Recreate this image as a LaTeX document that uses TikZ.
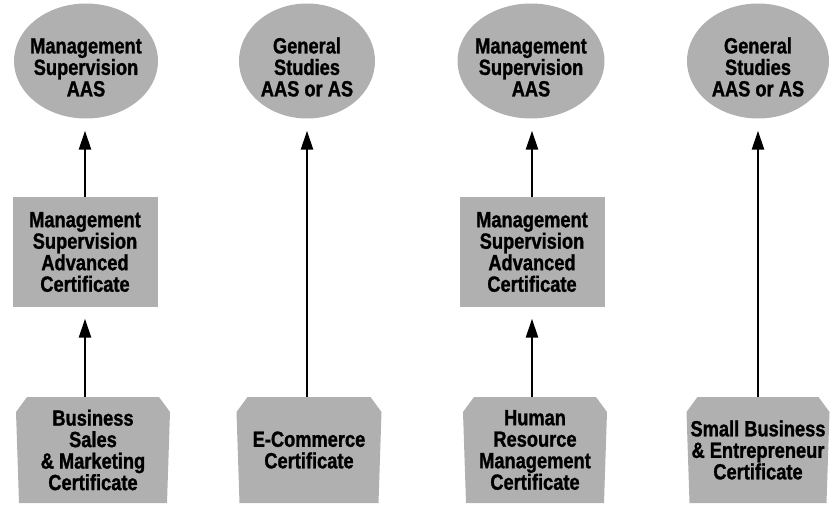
\documentclass[tikz,border=0pt]{standalone}
\usepackage{fontspec}
\setmainfont{Liberation Sans}[FakeStretch=0.83, FakeBold=1.2]
\usetikzlibrary{arrows.meta,shapes.geometric}
\definecolor{dotgray}{gray}{0.69}
\newcommand\dropline{\rule{0pt}{28pt}}
\tikzset{
  degree/.style={ellipse, fill=dotgray, inner xsep=-5pt, inner ysep=0pt, minimum height=115pt, align=center},
  advcert/.style={rectangle, fill=dotgray, minimum width=145pt, minimum height=109pt, inner sep=0pt, align=center},
  cert/.style={rectangle, minimum height=106pt, inner sep=0pt, align=center,
    path picture={\fill[dotgray] ([xshift=11pt]path picture bounding box.north west)
      -- ([xshift=-11pt]path picture bounding box.north east)
      -- ([yshift=-15pt]path picture bounding box.north east)
      -- ([xshift=-3pt]path picture bounding box.south east)
      -- ([xshift=3pt]path picture bounding box.south west)
      -- ([yshift=-15pt]path picture bounding box.north west) -- cycle;}},
  up/.style={line width=2.6pt, -{Triangle[width=12pt,length=19pt]}, shorten >=12pt}
}
\begin{document}
\begin{tikzpicture}[x=1pt, y=-1pt, font=\fontsize{22}{21.5}\selectfont\bfseries]
 \useasboundingbox (0,0) rectangle (833,505);

 % Degrees
 \node[degree, minimum width=144pt] (ms) at (86,61) {\dropline Management\\Supervision\\AAS};
 \node[degree, minimum width=136pt] (gs) at (307,61) {\dropline General\\Studies\\AAS or AS};
 \node[degree, minimum width=147pt] (ms2) at (531,61) {\dropline Management\\Supervision\\AAS};
 \node[degree, minimum width=142pt] (gs2) at (758,61) {\dropline General\\Studies\\AAS or AS};

 % Advanced certificates
 \node[advcert] (adv) at (85,252) {Management\\Supervision\\Advanced\\Certificate};
 \node[advcert] (adv2) at (532,252) {Management\\Supervision\\Advanced\\Certificate};

 % Certificates
 \node[cert, minimum width=154pt] (bsm) at (93,450) {Business\\Sales\\\& Marketing\\Certificate};
 \node[cert, minimum width=145pt] (ecom) at (309,450) {E-Commerce\\Certificate};
 \node[cert, minimum width=144pt] (hrm) at (535,450) {Human\\Resource\\Management\\Certificate};
 \node[cert, minimum width=143pt] (sbe) at (758,450) {Small Business\\\& Entrepreneur\\Certificate};

 % Paths
 \draw[up] (adv.north) -- (adv.north |- ms.south);
 \draw[up] (bsm.north -| adv.south) -- (adv.south);
 \draw[up] (ecom.north -| gs.south) -- (gs.south);
 \draw[up] (adv2.north) -- (adv2.north |- ms2.south);
 \draw[up] (hrm.north -| adv2.south) -- (adv2.south);
 \draw[up] (sbe.north) -- (sbe.north |- gs2.south);

\end{tikzpicture}
\end{document}
